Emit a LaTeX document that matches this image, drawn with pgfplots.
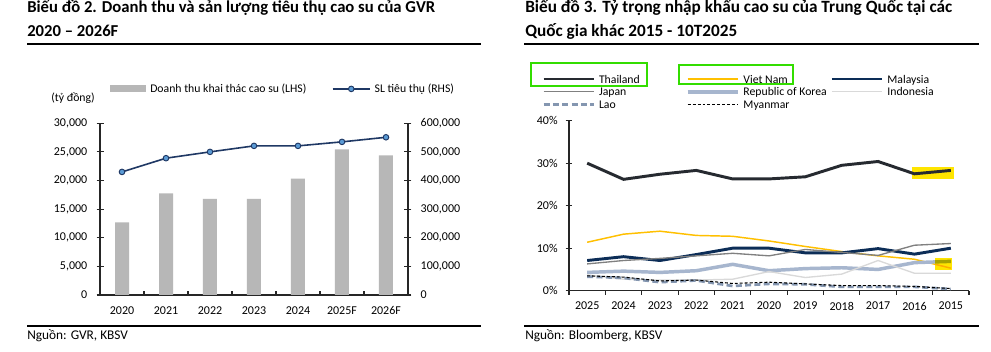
\documentclass[border=0pt]{standalone}
\usepackage{fontspec}
\setmainfont{Carlito}
\usepackage{pgfplots}
\pgfplotsset{compat=1.18}
\definecolor{barc}{HTML}{B7B7B7}
\definecolor{navyl}{HTML}{1F3864}
\definecolor{markc}{HTML}{5B9BD5}
\definecolor{thai}{HTML}{262A30}
\definecolor{vn}{HTML}{FFC000}
\definecolor{mal}{HTML}{0C2D57}
\definecolor{jap}{HTML}{808080}
\definecolor{kor}{HTML}{A7B6CE}
\definecolor{indo}{HTML}{D9D9D9}
\definecolor{lao}{HTML}{8496B0}
\definecolor{hl}{HTML}{FFE500}
\definecolor{gbox}{HTML}{33DD00}
\definecolor{txt}{HTML}{1A1A1A}
\newcommand{\lstrut}{\rule[-3pt]{0pt}{10.5pt}}
\pgfplotsset{
  linemarklegend/.style={legend image code/.code={\draw[mark repeat=2,mark phase=2,##1] plot coordinates {(0pt,0pt) (14pt,0pt) (28pt,0pt)};}},
  barlegend/.style={legend image code/.code={\fill[barc] (0pt,-2.6pt) rectangle (27pt,2.6pt);}},
  longlinelegend/.style={legend image code/.code={\draw[##1] (0pt,0pt) -- (37.5pt,0pt);}},
}
\begin{document}
\begin{tikzpicture}[font=\color{txt}]
\useasboundingbox[fill=white] (0,0) rectangle (743.25pt,264pt);
% ---------- left titles ----------
\node[anchor=base west, inner sep=0, font=\fontsize{12.5}{14}\selectfont\bfseries] at (20.25pt,254.25pt) {Biểu đồ 2. Doanh thu và sản lượng tiêu thụ cao su của GVR};
\node[anchor=base west, inner sep=0, font=\fontsize{12.5}{14}\selectfont\bfseries] at (20.25pt,236.25pt) {2020 – 2026F};
\draw[line width=1pt] (20.25pt,231pt) -- (360.75pt,231pt);
\draw[line width=1pt] (20.25pt,19.5pt) -- (360.75pt,19.5pt);
\node[anchor=base west, inner sep=0, font=\fontsize{10}{12}\selectfont] at (20.25pt,9.4pt) {Nguồn: GVR, KBSV};
\node[anchor=base, inner sep=0, font=\fontsize{8.8}{10}\selectfont] at (54.75pt,188pt) {(tỷ đồng)};
% ---------- right titles ----------
\node[anchor=base west, inner sep=0, font=\fontsize{12.9}{14}\selectfont\bfseries] at (393.75pt,254.25pt) {Biểu đồ 3. Tỷ trọng nhập khẩu cao su của Trung Quốc tại các};
\node[anchor=base west, inner sep=0, font=\fontsize{12.9}{14}\selectfont\bfseries] at (393.75pt,236.25pt) {Quốc gia khác 2015 - 10T2025};
\draw[line width=1pt] (393pt,231pt) -- (734.25pt,231pt);
\draw[line width=1pt] (393pt,19.5pt) -- (734.25pt,19.5pt);
\node[anchor=base west, inner sep=0, font=\fontsize{10}{12}\selectfont] at (393.75pt,9.4pt) {Nguồn: Bloomberg, KBSV};

% ---------- left chart: bars (LHS) ----------
\begin{axis}[
  at={(75pt,42.75pt)}, anchor=south west, scale only axis,
  width=231pt, height=128.8pt,
  xmin=-0.5, xmax=6.5, ymin=0, ymax=30000,
  axis x line=bottom, axis y line=left,
  axis line style={-, line width=0.8pt, color=black!85},
  tick align=inside,
  xtick={0,...,6}, xticklabels={2020,2021,2022,2023,2024,2025F,2026F},
  major x tick style={draw=none},
  minor xtick={-0.5,0.5,...,6.5}, minor tick length=3pt,
  minor x tick style={line width=0.8pt, black!85},
  ytick={0,5000,...,30000}, major tick length=5.25pt,
  y tick style={xshift=-2.625pt, line width=0.8pt, black!85},
  ticklabel style={font=\fontsize{9}{10}\selectfont},
  yticklabel style={xshift=-6pt},
  xticklabel style={yshift=-5pt},
  scaled y ticks=false,
  /pgf/number format/.cd, fixed, precision=0, 1000 sep={,}, assume math mode=true,
  /pgfplots/.cd,
  clip=false,
  legend columns=2,
  legend style={at={(0.0325,1.2)}, anchor=west, draw=none, fill=none,
    inner sep=0pt, column sep=0pt, font=\fontsize{8.8}{10}\selectfont,
    nodes={inner sep=0pt},
    /tikz/every even column/.append style={column sep=19pt}},
]
\addplot[ybar, bar width=10.5pt, fill=barc, draw=none, barlegend]
  coordinates {(0,12700) (1,17750) (2,16800) (3,16800) (4,20350) (5,25450) (6,24400)};
\addlegendentry{\hspace{3pt}Doanh thu khai thác cao su (LHS)\lstrut}
\addlegendimage{navyl, line width=1.2pt, mark=*, mark size=2.1pt,
  mark options={fill=markc, draw=navyl, line width=0.7pt}, linemarklegend}
\addlegendentry{\hspace{3pt}SL tiêu thụ (RHS)\lstrut}
\end{axis}
% ---------- left chart: line (RHS) ----------
\begin{axis}[
  at={(75pt,42.75pt)}, anchor=south west, scale only axis,
  width=231pt, height=128.8pt,
  xmin=-0.5, xmax=6.5, ymin=0, ymax=600000,
  axis x line=none, axis y line=right, xtick=\empty,
  axis line style={-, line width=0.8pt, color=black!85},
  tick align=inside,
  ytick={0,100000,200000,300000,400000,500000,600000}, major tick length=5.25pt,
  y tick style={xshift=2.625pt, line width=0.8pt, black!85},
  ticklabel style={font=\fontsize{9}{10}\selectfont},
  yticklabel style={xshift=6pt},
  scaled y ticks=false,
  /pgf/number format/.cd, fixed, precision=0, 1000 sep={,}, assume math mode=true,
  /pgfplots/.cd,
  clip=false,
]
\addplot[navyl, line width=1.2pt, mark=*, mark size=2.1pt,
  mark options={fill=markc, draw=navyl, line width=0.7pt}]
  coordinates {(0,430000) (1,478000) (2,500000) (3,521000) (4,521000) (5,535000) (6,551000)};
\end{axis}

% ---------- right chart ----------
\begin{axis}[
  at={(426.75pt,45.98pt)}, anchor=south west, scale only axis,
  width=300pt, height=127.5pt,
  xmin=-0.5, xmax=10.5, ymin=0, ymax=40,
  axis x line=bottom, axis y line=left,
  axis line style={-, line width=0.8pt, color=black!85},
  tick align=outside,
  xtick={0,...,10}, xticklabels={2025,2024,2023,2022,2021,2020,2019,2018,2017,2016,2015},
  major x tick style={draw=none},
  minor xtick={-0.5,0.5,...,10.5}, minor tick length=3pt,
  minor x tick style={line width=0.8pt, black!85},
  ytick={0,10,20,30,40}, yticklabels={0\%,10\%,20\%,30\%,40\%},
  major tick length=5pt,
  y tick style={xshift=2.5pt, line width=0.8pt, black!85},
  ticklabel style={font=\fontsize{9}{10}\selectfont},
  clip=false,
  legend columns=3,
  legend style={at={(-0.068,1.282)}, anchor=north west, draw=none, fill=none,
    inner sep=0pt, column sep=0pt, row sep=0.6pt, font=\fontsize{8.8}{10}\selectfont,
    nodes={inner sep=0pt}},
  longlinelegend,
]
\fill[hl] (axis cs:8.93,26.35) rectangle (axis cs:10.09,29.1);
\addplot[thai, line width=2.2pt] coordinates {(0,30.0) (1,26.2) (2,27.4) (3,28.3) (4,26.3) (5,26.3) (6,26.8) (7,29.5) (8,30.4) (9,27.5) (10,28.3)};
\addlegendentry{\makebox[68.25pt][l]{\hspace{3pt}Thailand\lstrut}}
\addplot[vn, line width=1.1pt] coordinates {(0,11.4) (1,13.3) (2,14.0) (3,13.0) (4,12.8) (5,11.7) (6,10.4) (7,9.2) (8,8.2) (9,7.4) (10,5.3)};
\addlegendentry{\makebox[68.25pt][l]{\hspace{3pt}Viet Nam\lstrut}}
\addplot[mal, line width=2.2pt] coordinates {(0,7.1) (1,8.0) (2,7.1) (3,8.5) (4,10.0) (5,10.0) (6,8.9) (7,8.9) (8,9.9) (9,8.6) (10,10.0)};
\addlegendentry{\makebox[68.25pt][l]{\hspace{3pt}Malaysia\lstrut}}
\addplot[jap, line width=1pt] coordinates {(0,6.3) (1,7.1) (2,7.6) (3,8.2) (4,8.8) (5,8.2) (6,9.7) (7,9.0) (8,8.3) (9,10.7) (10,11.1)};
\addlegendentry{\makebox[68.25pt][l]{\hspace{3pt}Japan\lstrut}}
\addplot[kor, line width=2.6pt] coordinates {(0,4.3) (1,4.6) (2,4.3) (3,4.7) (4,6.2) (5,4.7) (6,5.2) (7,5.4) (8,5.0) (9,6.6) (10,6.9)};
\addlegendentry{\makebox[68.25pt][l]{\hspace{3pt}Republic of Korea\lstrut}}
\addplot[indo, line width=1pt] coordinates {(0,3.7) (1,2.7) (2,2.5) (3,2.5) (4,2.7) (5,4.5) (6,3.1) (7,3.9) (8,7.1) (9,4.1) (10,4.1)};
\addlegendentry{\makebox[68.25pt][l]{\hspace{3pt}Indonesia\lstrut}}
\addplot[lao, line width=2pt, dash pattern=on 4.5pt off 2.5pt] coordinates {(0,3.3) (1,3.0) (2,2.0) (3,2.4) (4,1.1) (5,1.6) (6,1.5) (7,0.9) (8,0.9) (9,0.9) (10,0.4)};
\addlegendentry{\makebox[68.25pt][l]{\hspace{3pt}Lao\lstrut}}
\addplot[black, line width=0.8pt, dash pattern=on 2.2pt off 1.5pt] coordinates {(0,3.5) (1,3.2) (2,2.3) (3,2.5) (4,1.7) (5,2.0) (6,1.6) (7,1.2) (8,1.2) (9,1.0) (10,0.5)};
\addlegendentry{\makebox[68.25pt][l]{\hspace{3pt}Myanmar\lstrut}}
\fill[hl, blend mode=multiply] (axis cs:9.57,4.87) rectangle (axis cs:10.03,7.76);
\end{axis}
% green boxes
\draw[gbox, line width=2pt] (398.25pt,199.5pt) rectangle (485.25pt,216.75pt);
\draw[gbox, line width=2pt] (509.25pt,201pt) rectangle (594.75pt,215.25pt);
\end{tikzpicture}
\end{document}
